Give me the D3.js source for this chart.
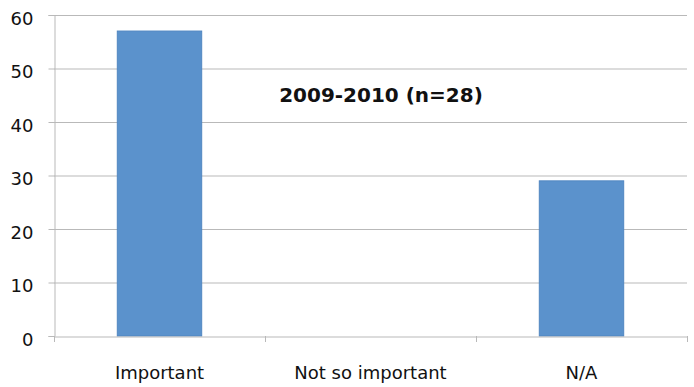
<!DOCTYPE html>
<html>
<head>
<meta charset="utf-8">
<script src="https://cdn.jsdelivr.net/npm/d3@7"></script>
<style>
  html, body { margin: 0; padding: 0; background: #fff; }
  svg { display: block; }
</style>
</head>
<body>
<svg id="chart" width="694" height="387"></svg>
<script>
const categories = ["Important", "Not so important", "N/A"];
const values = [57, 0, 29];
const yTicks = [0, 10, 20, 30, 40, 50, 60];
const title = "2009-2010 (n=28)";

const svg = d3.select("#chart");
const mLeft = 54, mRight = 687, mTop = 15, mBottom = 336;

const x = d3.scaleBand().domain(categories).range([mLeft, mRight]).paddingInner(0).paddingOuter(0);
const y = d3.scaleLinear().domain([0, 60]).range([mBottom, mTop]);

const gridColor = "#b9b9b9";
const font = "'DejaVu Sans', Verdana, sans-serif";

// gridlines
svg.append("g").selectAll("line").data(yTicks.filter(d => d > 0)).join("line")
  .attr("x1", mLeft).attr("x2", mRight)
  .attr("y1", d => y(d) + 0.5).attr("y2", d => y(d) + 0.5)
  .attr("stroke", gridColor).attr("stroke-width", 1);

// y axis
const yAxis = svg.append("g").attr("transform", `translate(${mLeft + 0.5},0)`)
  .call(d3.axisLeft(y).tickValues(yTicks).tickSize(6).tickPadding(15).tickFormat(d3.format("d")));
yAxis.select(".domain").attr("stroke", gridColor);
yAxis.selectAll(".tick line").attr("stroke", gridColor);
yAxis.selectAll(".tick text").attr("font-family", font).attr("font-size", 18).attr("fill", "#111")
  .attr("dy", "0.5em");

// bars
const bw = x.bandwidth() * 0.4;
svg.append("g").selectAll("rect").data(categories.map((c, i) => ({ c, v: values[i] }))).join("rect")
  .attr("x", d => x(d.c) + (x.bandwidth() - bw) / 2)
  .attr("width", bw)
  .attr("y", d => y(d.v))
  .attr("height", d => y(0) - y(d.v))
  .attr("fill", "#5b92cc")
  .attr("stroke", "#5086c1")
  .attr("stroke-width", 1);

// x axis
const xAxis = svg.append("g").attr("transform", `translate(0,${mBottom + 0.5})`)
  .call(d3.axisBottom(x).tickSize(0).tickPadding(37));
xAxis.select(".domain").attr("stroke", gridColor);
xAxis.selectAll(".tick text").attr("font-family", font).attr("font-size", 18).attr("fill", "#111")
  .attr("dy", "0.3em");
// boundary ticks
const bounds = categories.map(c => x(c)).concat([x(categories[categories.length - 1]) + x.bandwidth()]);
svg.append("g").selectAll("line").data(bounds).join("line")
  .attr("x1", d => d + 0.5).attr("x2", d => d + 0.5)
  .attr("y1", mBottom).attr("y2", mBottom + 6)
  .attr("stroke", gridColor);

// title
svg.append("text").attr("x", 381).attr("y", 102).attr("text-anchor", "middle")
  .attr("font-family", font).attr("font-weight", "bold").attr("font-size", 20).attr("fill", "#111")
  .text(title);
</script>
</body>
</html>
